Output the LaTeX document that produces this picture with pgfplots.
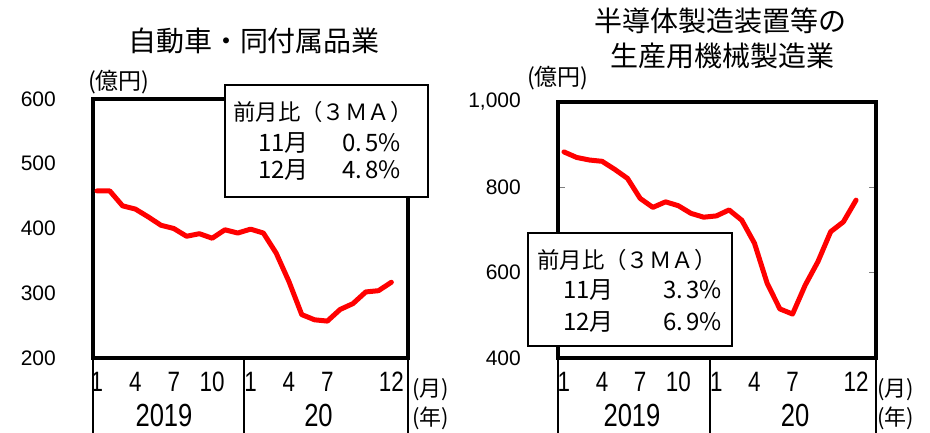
\documentclass[border=0pt]{standalone}
\usepackage{fontspec}
\setmainfont{Liberation Sans}
\newfontfamily\jp{Noto Sans CJK JP}
\newfontfamily\narrow[FakeStretch=0.8]{Liberation Sans}
\usepackage{pgfplots}
\pgfplotsset{compat=1.18}
\pgfplotstableread{
m v
1 458
2 458
3 435
4 430
5 418
6 405
7 400
8 388
9 392
10 385
11 398
12 393
13 399
14 393
15 362
16 318
17 267
18 259
19 257
20 275
21 284
22 302
23 304
24 317
}\autodata
\pgfplotstableread{
m v
1 883
2 870
3 864
4 861
5 842
6 821
7 774
8 753
9 766
10 757
11 739
12 730
13 733
14 747
15 723
16 669
17 575
18 515
19 503
20 571
21 626
22 696
23 719
24 770
}\semidata
\begin{document}
\begin{tikzpicture}[x=1pt,y=1pt]
\path[use as bounding box] (0,0) rectangle (930,433);
\pgfplotsset{
  myax/.style={scale only axis, anchor=south west,
    axis line style={line width=4.5pt, line cap=rect},
    xtick={1,4,7,10,13,16,19,24}, xticklabels={1,4,7,10,1,4,7,12},
    xtick style={draw=none},
    xticklabel style={font=\narrow\fontsize{28}{28}\selectfont, anchor=center, inner sep=0pt, yshift=-24pt},
    yticklabel style={font=\fontsize{21}{21}\selectfont, anchor=east, inner sep=0pt, xshift=-37pt},
    clip=false,
  },
  myline/.style={red, line width=5pt, line join=round, line cap=round, no markers},
}
% Left panel
\begin{axis}[myax, at={(93pt,75pt)}, width=315pt, height=259pt,
  xmin=0.69, xmax=25.3, ymin=200, ymax=600,
  ytick={200,300,400,500,600}, yticklabels={200,300,400,500,600},
  ytick style={draw=none}]
\addplot[myline] table[x=m,y=v]{\autodata};
\end{axis}
% Right panel
\begin{axis}[myax, at={(558pt,75pt)}, width=318pt, height=256pt,
  xmin=0.53, xmax=25.57, ymin=400, ymax=1000,
  ytick={400,600,800,1000}, yticklabels={400,600,800,{1,000}},
  ytick style={line width=1.5pt}, major tick length=7pt, tick align=inside]
\addplot[myline] table[x=m,y=v]{\semidata};
\end{axis}
% separators below axes
\foreach \xx in {93,244,408,558,710,876}{
  \draw[line width=1.6pt] (\xx,75) -- (\xx,0);
}
% year labels
\node[font=\narrow\fontsize{32}{32}\selectfont] at (164,17.5) {2019};
\node[font=\narrow\fontsize{32}{32}\selectfont] at (318.5,17.5) {20};
\node[font=\narrow\fontsize{32}{32}\selectfont] at (632,17.5) {2019};
\node[font=\narrow\fontsize{32}{32}\selectfont] at (795,17.5) {20};
% unit labels
\node[font=\jp\fontsize{22}{22}\selectfont, anchor=west, inner sep=0pt] at (412,43) {(月)};
\node[font=\jp\fontsize{22}{22}\selectfont, anchor=west, inner sep=0pt] at (412,15) {(年)};
\node[font=\jp\fontsize{22}{22}\selectfont, anchor=west, inner sep=0pt] at (877,43) {(月)};
\node[font=\jp\fontsize{22}{22}\selectfont, anchor=west, inner sep=0pt] at (877,15) {(年)};
\node[font=\jp\fontsize{23}{23}\selectfont, anchor=west, inner sep=0pt] at (88,351) {(億円)};
\node[font=\jp\fontsize{23}{23}\selectfont, anchor=west, inner sep=0pt] at (527,355) {(億円)};
% titles
\node[font=\jp\fontsize{28}{28}\selectfont] at (254,392.5) {自動車・同付属品業};
\node[font=\jp\fontsize{28}{28}\selectfont] at (720,412) {半導体製造装置等の};
\node[font=\jp\fontsize{28}{28}\selectfont] at (722,377) {生産用機械製造業};
% legend boxes
\filldraw[fill=white, draw=black, line width=1.5pt] (225,236) rectangle (428,348);
\node[font=\jp\fontsize{22.4}{22.4}\selectfont, anchor=west, inner sep=0pt] at (233,321) {前月比（３ＭＡ）};
\node[font=\jp\fontsize{24}{24}\selectfont, anchor=west, inner sep=0pt] at (258,290) {11月};
\node[font=\jp\fontsize{24}{24}\selectfont, anchor=east, inner sep=0pt] at (401,290) {0.\hspace{3pt}5\%};
\node[font=\jp\fontsize{24}{24}\selectfont, anchor=west, inner sep=0pt] at (258,263) {12月};
\node[font=\jp\fontsize{24}{24}\selectfont, anchor=east, inner sep=0pt] at (401,263) {4.\hspace{3pt}8\%};
\filldraw[fill=white, draw=black, line width=1.5pt] (528,87) rectangle (732,200);
\node[font=\jp\fontsize{22.4}{22.4}\selectfont, anchor=west, inner sep=0pt] at (537,173) {前月比（３ＭＡ）};
\node[font=\jp\fontsize{24}{24}\selectfont, anchor=west, inner sep=0pt] at (563,143) {11月};
\node[font=\jp\fontsize{24}{24}\selectfont, anchor=east, inner sep=0pt] at (722,143) {3.\hspace{3pt}3\%};
\node[font=\jp\fontsize{24}{24}\selectfont, anchor=west, inner sep=0pt] at (563,111) {12月};
\node[font=\jp\fontsize{24}{24}\selectfont, anchor=east, inner sep=0pt] at (722,111) {6.\hspace{3pt}9\%};
\end{tikzpicture}
\end{document}
